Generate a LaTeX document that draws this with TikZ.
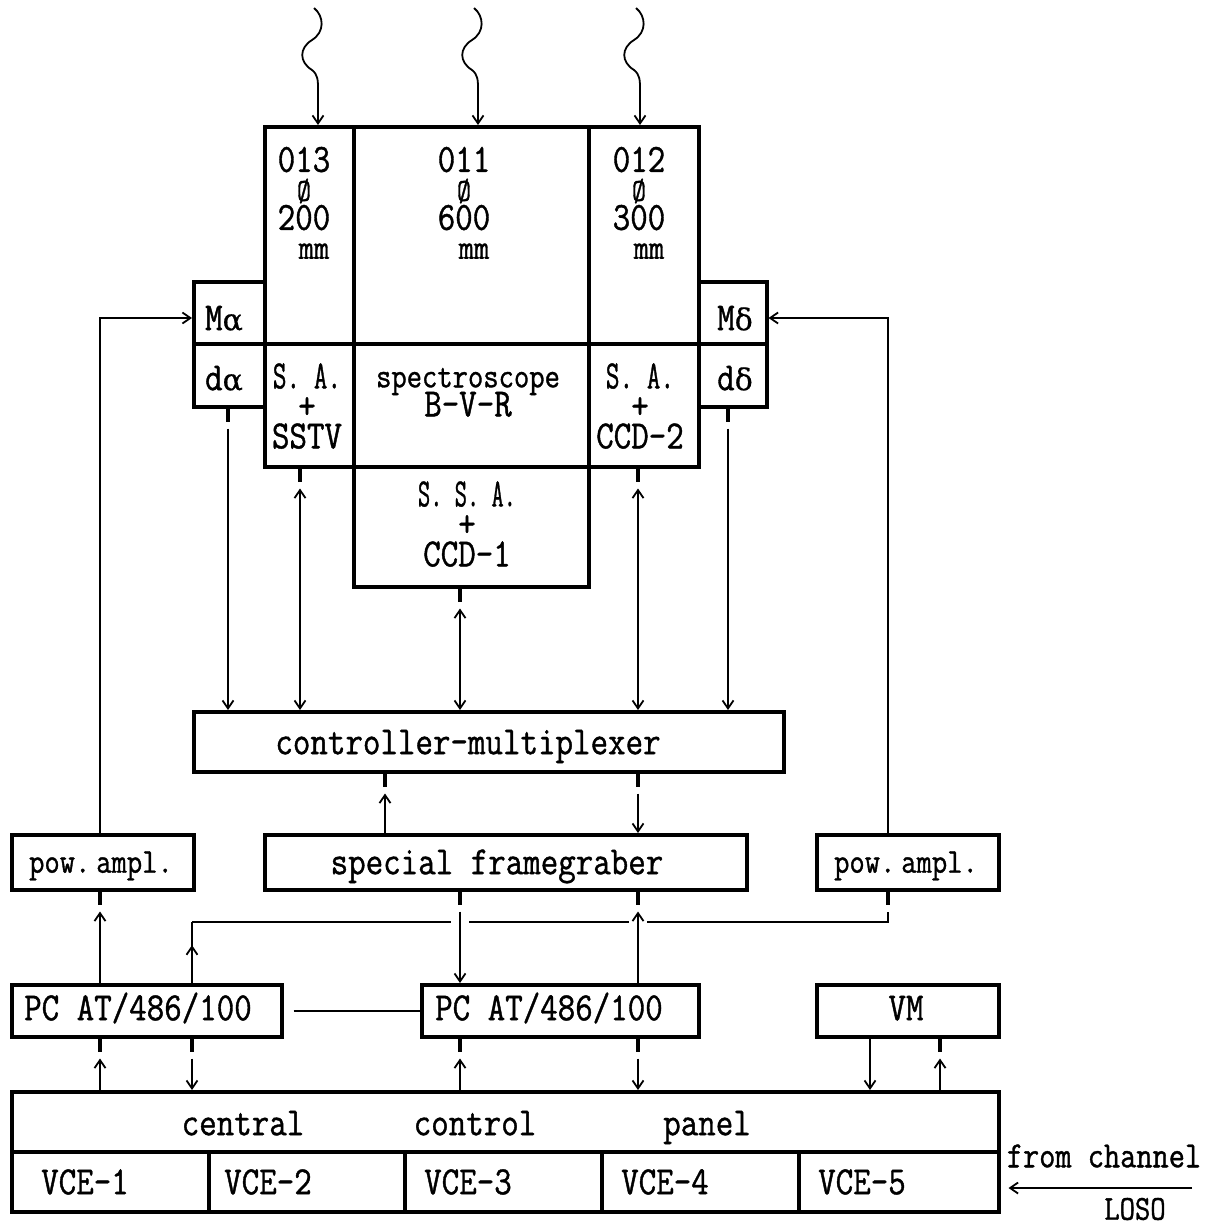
\documentclass[tikz,border=0pt]{standalone}
\usepackage{fontspec}
\setmonofont{Latin Modern Mono}[FakeStretch=0.85,FakeBold=1]
\newfontfamily\grk{DejaVu Serif}[FakeBold=0.5]
\usetikzlibrary{arrows.meta,calc,decorations.markings}
\newcommand\mybox[5]{\node[box,anchor=north west,minimum width=#4pt,minimum height=#5pt] (#1) at (#2,#3) {};}
\newcommand\cnd[2]{\scalebox{#1}[1]{#2}}
\newcommand\osl{{\fontsize{32}{29}\selectfont\O}}
\newcommand\mmm{{\fontsize{35}{29}\selectfont\hspace*{20pt}mm}}
\newcommand\tightls{\lineskiplimit-100pt\relax}
\begin{document}
\begin{tikzpicture}[x=1pt,y=-1pt,
  box/.style={draw,line width=3.5pt,inner sep=0pt},
  conn/.style={line width=1.8pt},
  stub/.style={line width=4.5pt},
  tip/.tip={Straight Barb[length=8pt,width=11pt]},
  arr/.style={conn,-tip},
  biarr/.style={conn,tip-tip},
  midarr/.style={postaction={decorate},decoration={markings,mark=at position 0.62 with {\arrow{tip}}}},
  txt/.style={font=\fontsize{40}{42}\selectfont\ttfamily,inner sep=0pt,text height=24.4pt,text depth=0pt},
  stxt/.style={txt,font=\fontsize{35}{37}\selectfont\ttfamily,text height=21.4pt},
  mtxt/.style={txt,font=\fontsize{37}{39}\selectfont\ttfamily,text height=22.6pt},
  stack/.style={font={\fontsize{40}{29}\selectfont\ttfamily\tightls},inner sep=0pt,align=center,anchor=south},
  stack30/.style={stack,font={\fontsize{40}{30}\selectfont\ttfamily\tightls}}
]
\useasboundingbox[fill=white] (0,0) rectangle (1217,1229);

% ---------- boxes ----------
\mybox{t013}{263}{125}{89}{217}
\mybox{t011}{352}{125}{235}{217}
\mybox{t012}{587}{125}{110}{217}
\mybox{saS}{263}{342}{89}{123}
\mybox{spec}{352}{342}{235}{123}
\mybox{saC}{587}{342}{110}{123}
\mybox{ssa}{352}{465}{235}{120}
\mybox{ma}{192}{280}{71}{62}
\mybox{da}{192}{342}{71}{63}
\mybox{md}{697}{280}{68}{62}
\mybox{dd}{697}{342}{68}{63}
\mybox{cm}{192}{710}{590}{60}
\mybox{pa1}{10}{833}{182}{55}
\mybox{fg}{263}{833}{482}{55}
\mybox{pa2}{815}{833}{182}{55}
\mybox{pc1}{10}{983}{270}{52}
\mybox{pc2}{420}{983}{277}{52}
\mybox{vm}{815}{983}{182}{52}
\mybox{cp}{10}{1090}{987}{60}
\mybox{v1}{10}{1150}{197}{60}
\mybox{v2}{207}{1150}{196}{60}
\mybox{v3}{403}{1150}{197}{60}
\mybox{v4}{600}{1150}{197}{60}
\mybox{v5}{797}{1150}{200}{60}

% ---------- texts ----------
\node[stack] (l013) at (304,259) {013\\\osl\\200\\\mmm};
\node[stack] (l011) at (464,259) {011\\\osl\\600\\\mmm};
\node[stack] (l012) at (639,259) {012\\\osl\\300\\\mmm};

\node[txt] (tma) at (224,318) {M{\grk\fontsize{30}{32}\selectfont α}};
\node[txt] (tda) at (224,378) {d{\grk\fontsize{30}{32}\selectfont α}};
\node[txt] (tmd) at (735,318) {M{\grk\fontsize{30}{32}\selectfont δ}};
\node[txt] (tdd) at (735,378) {d{\grk\fontsize{30}{32}\selectfont δ}};

\node[stack30] (tsa1) at (307,449) {\cnd{0.78}{S. A.}\\+\\SSTV};
\node[stack] (tspec) at (468,417) {{\fontsize{35}{29}\selectfont spectroscope}\\B-V-R};
\node[stack30] (tsa2) at (640,449) {\cnd{0.78}{S. A.}\\+\\CCD-2};
\node[stack30] (tssa) at (467,567) {\cnd{0.7}{S. S. A.}\\+\\CCD-1};

\node[txt] (tcm) at (468,742) {controller-multiplexer};
\node[stxt] (tpa1) at (101,862) {pow.\,ampl.};
\node[txt] (tfg) at (497,862) {special framegraber};
\node[stxt] (tpa2) at (906,862) {pow.\,ampl.};
\node[txt] (tpc1) at (138,1008) {PC AT/486/100};
\node[txt] (tpc2) at (549,1008) {PC AT/486/100};
\node[txt] (tvm) at (906,1008) {VM};
\node[txt] (tcen) at (243,1123) {central};
\node[txt] (tcon) at (475,1123) {control};
\node[txt] (tpan) at (707,1123) {panel};
\node[txt] (tv1) at (85,1182) {VCE-1};
\node[txt] (tv2) at (268,1182) {VCE-2};
\node[txt] (tv3) at (468,1182) {VCE-3};
\node[txt] (tv4) at (665,1182) {VCE-4};
\node[txt] (tv5) at (862,1182) {VCE-5};
\node[mtxt] (tfc) at (1104,1156) {from channel};
\node[stxt] (tloso) at (1135,1209) {LOSO};

% ---------- coordinates ----------
\coordinate (xa1) at (228,0);
\coordinate (xa2) at (300,0);
\coordinate (xa3) at (460,0);
\coordinate (xa4) at (638,0);
\coordinate (xa5) at (728,0);
\coordinate (xb1) at (385,0);
\coordinate (xl) at (100,0);
\coordinate (xm) at (192,0);
\coordinate (xr) at (888,0);
\coordinate (xv1) at (870,0);
\coordinate (xv2) at (940,0);
\coordinate (yh) at (0,922);
\coordinate (ym) at (0,318);
\coordinate (fcs) at (1192,1188);
\coordinate (w1) at (318,0);
\coordinate (w2) at (478,0);
\coordinate (w3) at (640,0);

% ---------- incoming light ----------
\foreach \w/\b in {w1/t013,w2/t011,w3/t012}{
  \draw[arr] ($(\w)+(-4,8)$) .. controls ($(\w)+(6,16)$) and ($(\w)+(7,32)$) .. ($(\w)+(-6,40)$)
     .. controls ($(\w)+(-19,48)$) and ($(\w)+(-19,62)$) .. ($(\w)+(-6,70)$)
     .. controls ($(\w)+(0,75)$) and ($(\w)+(0,80)$) .. ($(\w)+(0,90)$) -- (\b.north -| \w);
}

% ---------- telescope -> controller ----------
\draw[stub] (da.south -| xa1) -- ++(0,13);
\draw[arr] ($(da.south -| xa1)+(0,20)$) -- (cm.north -| xa1);
\draw[stub] (saS.south -| xa2) -- ++(0,13);
\draw[biarr] ($(saS.south -| xa2)+(0,20)$) -- (cm.north -| xa2);
\draw[stub] (ssa.south -| xa3) -- ++(0,13);
\draw[biarr] ($(ssa.south -| xa3)+(0,20)$) -- (cm.north -| xa3);
\draw[stub] (saC.south -| xa4) -- ++(0,13);
\draw[biarr] ($(saC.south -| xa4)+(0,20)$) -- (cm.north -| xa4);
\draw[stub] (dd.south -| xa5) -- ++(0,13);
\draw[arr] ($(dd.south -| xa5)+(0,20)$) -- (cm.north -| xa5);

% ---------- controller <-> framegrabber ----------
\draw[stub] (cm.south -| xb1) -- ++(0,13);
\draw[arr] (fg.north -| xb1) -- ($(cm.south -| xb1)+(0,20)$);
\draw[stub] (cm.south -| xa4) -- ++(0,13);
\draw[arr] ($(cm.south -| xa4)+(0,20)$) -- (fg.north -| xa4);

% ---------- power amplifiers -> motors ----------
\draw[arr] (pa1.north -| xl) -- (xl |- ym) -- (ma.west |- ym);
\draw[arr] (pa2.north -| xr) -- (xr |- ym) -- (md.east |- ym);

% ---------- PC1 -> pow. ampl. ----------
\draw[stub] (pa1.south -| xl) -- ++(0,13);
\draw[arr] (pc1.north -| xl) -- ($(pa1.south -| xl)+(0,20)$);

% ---------- PC1 -> right pow. ampl. (bus) ----------
\draw[conn,midarr] (pc1.north -| xm) -- (xm |- yh);
\draw[conn] (xm |- yh) -- ($(xa3 |- yh)+(-9,0)$);
\draw[conn] ($(xa3 |- yh)+(9,0)$) -- ($(xa4 |- yh)+(-9,0)$);
\draw[conn] ($(xa4 |- yh)+(9,0)$) -- (xr |- yh) -- ($(pa2.south -| xr)+(0,20)$);
\draw[stub] (pa2.south -| xr) -- ++(0,13);

% ---------- framegrabber <-> PC2 ----------
\draw[stub] (fg.south -| xa3) -- ++(0,13);
\draw[arr] ($(fg.south -| xa3)+(0,20)$) -- (pc2.north -| xa3);
\draw[stub] (fg.south -| xa4) -- ++(0,13);
\draw[arr] (pc2.north -| xa4) -- ($(fg.south -| xa4)+(0,20)$);

% ---------- PC1 - PC2 ----------
\draw[conn] ($(pc1.east)+(10,0)$) -- (pc2.west);

% ---------- PCs / VM <-> panel ----------
\draw[stub] (pc1.south -| xl) -- ++(0,13);
\draw[arr] (cp.north -| xl) -- ($(pc1.south -| xl)+(0,20)$);
\draw[stub] (pc1.south -| xm) -- ++(0,13);
\draw[arr] ($(pc1.south -| xm)+(0,20)$) -- (cp.north -| xm);
\draw[stub] (pc2.south -| xa3) -- ++(0,13);
\draw[arr] (cp.north -| xa3) -- ($(pc2.south -| xa3)+(0,20)$);
\draw[stub] (pc2.south -| xa4) -- ++(0,13);
\draw[arr] ($(pc2.south -| xa4)+(0,20)$) -- (cp.north -| xa4);
\draw[arr] (vm.south -| xv1) -- (cp.north -| xv1);
\draw[stub] (vm.south -| xv2) -- ++(0,13);
\draw[arr] (cp.north -| xv2) -- ($(vm.south -| xv2)+(0,20)$);

% ---------- from channel LOSO ----------
\draw[arr] (fcs) -- ($(v5.east |- fcs)+(8,0)$);
\end{tikzpicture}
\end{document}
